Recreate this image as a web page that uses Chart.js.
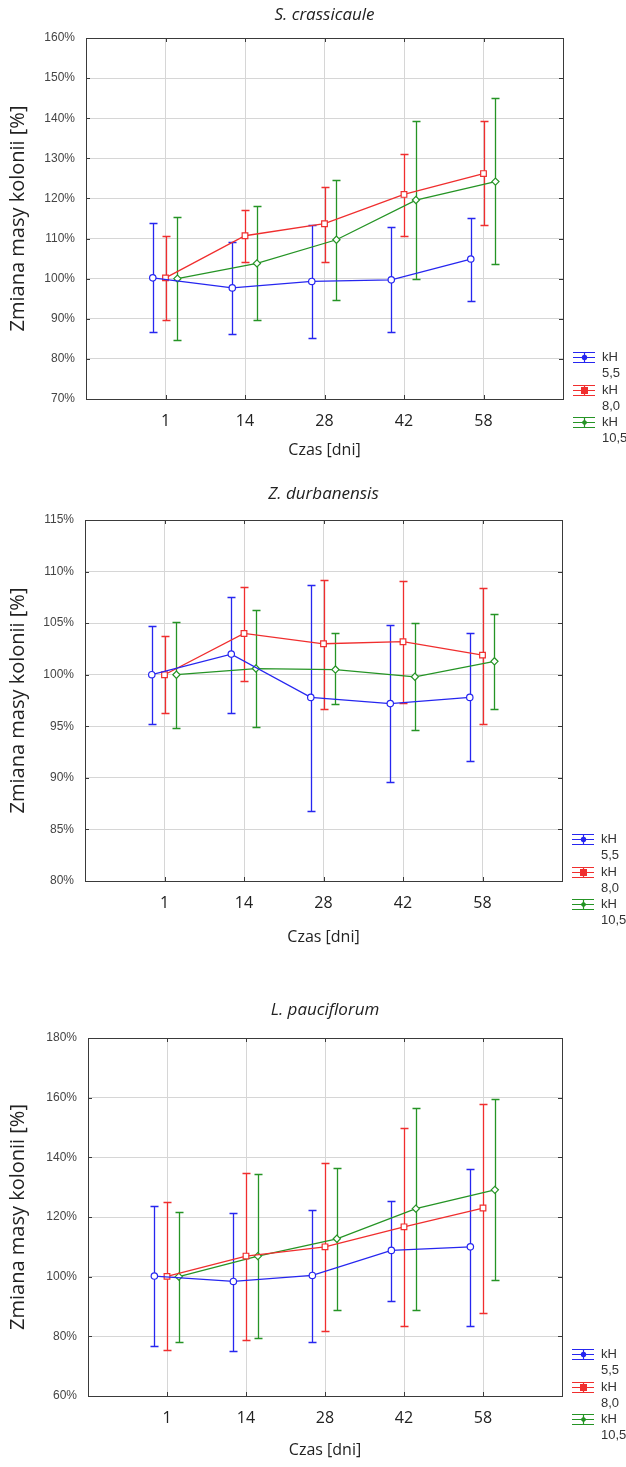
<!DOCTYPE html>
<html>
<head>
<meta charset="utf-8">
<script src="https://cdn.jsdelivr.net/npm/chart.js@4.4.1/dist/chart.umd.min.js"></script>
<style>
html, body { margin: 0; padding: 0; background: #fff; }
#wrap { position: relative; width: 626px; height: 1467px; }
#wrap canvas { position: absolute; left: 0; }
</style>
</head>
<body>
<div id="wrap">
  <canvas id="c1"></canvas>
  <canvas id="c2"></canvas>
  <canvas id="c3"></canvas>
</div>
<script>
var days = ['1', '14', '28', '42', '58'];
var seriesLabels = [['kH', '5,5'], ['kH', '8,0'], ['kH', '10,5']];

// S. crassicaule
var scMean55 = [100.2, 97.7, 99.3, 99.7, 104.9];
var scLo55 = [86.6, 86.2, 85.2, 86.8, 94.5];
var scHi55 = [113.8, 109.1, 113.5, 112.8, 115.2];
var scMean80 = [100.2, 110.7, 113.7, 121.0, 126.2];
var scLo80 = [89.8, 104.2, 104.2, 110.7, 113.5];
var scHi80 = [110.6, 117.2, 122.9, 131.2, 139.2];
var scMean105 = [100.0, 103.8, 109.7, 119.6, 124.2];
var scLo105 = [84.7, 89.8, 94.7, 100.0, 103.7];
var scHi105 = [115.4, 118.2, 124.7, 139.2, 145.0];

// Z. durbanensis
var zdMean55 = [100.0, 102.0, 97.8, 97.2, 97.8];
var zdLo55 = [95.2, 96.3, 86.8, 89.6, 91.6];
var zdHi55 = [104.7, 107.5, 108.7, 104.8, 104.0];
var zdMean80 = [100.0, 104.0, 103.0, 103.2, 101.9];
var zdLo80 = [96.3, 99.4, 96.7, 97.3, 95.2];
var zdHi80 = [103.8, 108.5, 109.2, 109.1, 108.4];
var zdMean105 = [100.0, 100.6, 100.5, 99.8, 101.3];
var zdLo105 = [94.8, 94.9, 97.2, 94.6, 96.7];
var zdHi105 = [105.1, 106.3, 104.0, 105.0, 105.9];

// L. pauciflorum
var lpMean55 = [100.2, 98.4, 100.4, 108.8, 110.0];
var lpLo55 = [76.6, 75.1, 78.2, 91.8, 83.3];
var lpHi55 = [123.6, 121.5, 122.5, 125.5, 136.2];
var lpMean80 = [100.1, 106.9, 110.0, 116.7, 123.0];
var lpLo80 = [75.5, 78.8, 81.9, 83.3, 87.8];
var lpHi80 = [124.9, 134.8, 138.1, 150.0, 158.0];
var lpMean105 = [100.0, 106.9, 112.7, 122.8, 129.1];
var lpLo105 = [78.2, 79.6, 88.9, 88.9, 98.9];
var lpHi105 = [121.8, 134.5, 136.3, 156.5, 159.6];

var colors = ['#2626f0', '#f02e2e', '#259425'];
var pointStyles = ['circle', 'rect', 'rectRot'];
var pointRadii = [3.2, 4, 3.6];
var xShift = [-0.16, 0, 0.15];

var panels = [
    { id: 'c1', title: 'S. crassicaule', yMin: 70, yMax: 160, yStep: 10,
      mean: [scMean55, scMean80, scMean105], lo: [scLo55, scLo80, scLo105], hi: [scHi55, scHi80, scHi105],
      box: { top: 0, height: 470, titleY: 15, areaTop: 38, areaBottom: 399, xTitleY: 450, left: 86, right: 563 } },
    { id: 'c2', title: 'Z. durbanensis', yMin: 80, yMax: 115, yStep: 5,
      mean: [zdMean55, zdMean80, zdMean105], lo: [zdLo55, zdLo80, zdLo105], hi: [zdHi55, zdHi80, zdHi105],
      box: { top: 470, height: 490, titleY: 494, areaTop: 520, areaBottom: 881, xTitleY: 937, left: 85, right: 562 } },
    { id: 'c3', title: 'L. pauciflorum', yMin: 60, yMax: 180, yStep: 20,
      mean: [lpMean55, lpMean80, lpMean105], lo: [lpLo55, lpLo80, lpLo105], hi: [lpHi55, lpHi80, lpHi105],
      box: { top: 960, height: 507, titleY: 1010, areaTop: 1038, areaBottom: 1396, xTitleY: 1450, left: 88, right: 562 } }
];

function drawMarker(ctx, style, r, x, y) {
    ctx.beginPath();
    if (style === 'rect') {
        ctx.rect(x - r, y - r, 2 * r, 2 * r);
    } else if (style === 'rectRot') {
        ctx.moveTo(x, y - r); ctx.lineTo(x + r, y); ctx.lineTo(x, y + r); ctx.lineTo(x - r, y); ctx.closePath();
    } else {
        ctx.arc(x, y, r, 0, Math.PI * 2);
    }
}

// error bars under the lines
var errorBars = {
    id: 'errorBars',
    beforeDatasetsDraw: function (chart) {
        var ctx = chart.ctx, xs = chart.scales.x, ys = chart.scales.y;
        chart.data.datasets.forEach(function (ds) {
            ctx.save();
            ctx.strokeStyle = ds.borderColor;
            ctx.lineWidth = 1.3;
            ds.data.forEach(function (p, i) {
                var x = Math.round(xs.getPixelForValue(p.x)) + 0.5;
                var y1 = Math.round(ys.getPixelForValue(ds.errLo[i])) + 0.5;
                var y2 = Math.round(ys.getPixelForValue(ds.errHi[i])) + 0.5;
                ctx.beginPath();
                ctx.moveTo(x, y1); ctx.lineTo(x, y2);
                ctx.moveTo(x - 4, y1); ctx.lineTo(x + 4, y1);
                ctx.moveTo(x - 4, y2); ctx.lineTo(x + 4, y2);
                ctx.stroke();
            });
            ctx.restore();
        });
    }
};

// box around plot, inward tick marks and the side legend
var frameAndLegend = {
    id: 'frameAndLegend',
    afterDraw: function (chart) {
        var ctx = chart.ctx, a = chart.chartArea;
        var xs = chart.scales.x, ys = chart.scales.y;
        ctx.save();
        ctx.strokeStyle = '#3a3a3a';
        ctx.lineWidth = 1;
        ctx.strokeRect(Math.round(a.left) + 0.5, Math.round(a.top) + 0.5,
            Math.round(a.right - a.left), Math.round(a.bottom - a.top));
        ctx.beginPath();
        xs.ticks.forEach(function (t) {
            var x = Math.round(xs.getPixelForValue(t.value)) + 0.5;
            ctx.moveTo(x, a.top); ctx.lineTo(x, a.top + 4);
            ctx.moveTo(x, a.bottom); ctx.lineTo(x, a.bottom - 4);
        });
        ys.ticks.forEach(function (t) {
            var y = Math.round(ys.getPixelForValue(t.value)) + 0.5;
            ctx.moveTo(a.left, y); ctx.lineTo(a.left + 4, y);
            ctx.moveTo(a.right, y); ctx.lineTo(a.right - 4, y);
        });
        ctx.stroke();

        chart.data.datasets.forEach(function (ds, i) {
            var y = Math.round(a.bottom - 42 + i * 32.5) + 0.5;
            var x0 = Math.round(a.right) + 10, x1 = x0 + 22, xc = Math.round((x0 + x1) / 2) + 0.5;
            ctx.strokeStyle = ds.borderColor;
            ctx.lineWidth = 1.2;
            ctx.beginPath();
            ctx.moveTo(x0, y - 5); ctx.lineTo(x1, y - 5);
            ctx.moveTo(x0, y); ctx.lineTo(x1, y);
            ctx.moveTo(x0, y + 5); ctx.lineTo(x1, y + 5);
            ctx.moveTo(xc, y - 5); ctx.lineTo(xc, y + 5);
            ctx.stroke();
            ctx.fillStyle = ds.borderColor;
            drawMarker(ctx, ds.pointStyle, ds.pointRadius - 0.5, xc, y);
            ctx.fill();
            ctx.fillStyle = '#333';
            ctx.font = '13px "Liberation Sans", Arial, sans-serif';
            ctx.textAlign = 'left';
            ctx.textBaseline = 'middle';
            ctx.fillText(ds.legendText[0], x1 + 7, y);
            ctx.fillText(ds.legendText[1], x1 + 7, y + 16);
        });
        ctx.restore();
    }
};

panels.forEach(function (p) {
    var b = p.box;
    var canvas = document.getElementById(p.id);
    canvas.width = 626;
    canvas.height = b.height;
    canvas.style.top = b.top + 'px';

    var titleLh = 17 * 1.2, xTitleLh = 16 * 1.2, yTitleLh = 20 * 1.2;

    var datasets = p.mean.map(function (m, s) {
        return {
            label: seriesLabels[s].join(' '),
            legendText: seriesLabels[s],
            data: m.map(function (v, i) { return { x: i + 1 + xShift[s], y: v }; }),
            errLo: p.lo[s],
            errHi: p.hi[s],
            borderColor: colors[s],
            backgroundColor: colors[s],
            borderWidth: 1.3,
            tension: 0,
            pointStyle: pointStyles[s],
            pointRadius: pointRadii[s],
            pointBorderWidth: 1.2,
            pointBorderColor: colors[s],
            pointBackgroundColor: '#fff'
        };
    });

    new Chart(canvas.getContext('2d'), {
        type: 'line',
        data: { datasets: datasets },
        options: {
            responsive: false,
            animation: false,
            devicePixelRatio: 1,
            layout: { padding: { left: 0, top: 0, right: 626 - b.right, bottom: 0 } },
            plugins: {
                legend: { display: false },
                tooltip: { enabled: false },
                title: {
                    display: true,
                    text: p.title,
                    fullSize: false,
                    color: '#222',
                    font: { family: '"Open Sans", sans-serif', size: 17, style: 'italic', weight: 'normal' },
                    padding: { top: b.titleY - b.top - titleLh / 2, bottom: b.areaTop - b.titleY - titleLh / 2 }
                }
            },
            scales: {
                x: {
                    type: 'linear',
                    min: 0,
                    max: 6,
                    afterBuildTicks: function (scale) {
                        scale.ticks = days.map(function (d, i) { return { value: i + 1 }; });
                    },
                    afterFit: function (scale) { scale.height = b.top + b.height - b.areaBottom; },
                    ticks: {
                        autoSkip: false,
                        maxRotation: 0,
                        padding: 13,
                        color: '#222',
                        font: { family: '"Open Sans", sans-serif', size: 16 },
                        callback: function (v) { return days[v - 1]; }
                    },
                    grid: { color: '#d6d6d6', drawTicks: false },
                    border: { color: '#3a3a3a' },
                    title: {
                        display: true,
                        text: 'Czas [dni]',
                        color: '#222',
                        font: { family: '"Open Sans", sans-serif', size: 16 },
                        padding: { top: 0, bottom: b.top + b.height - b.xTitleY - xTitleLh / 2 }
                    }
                },
                y: {
                    min: p.yMin,
                    max: p.yMax,
                    afterFit: function (scale) { scale.width = b.left; },
                    ticks: {
                        stepSize: p.yStep,
                        padding: 11,
                        color: '#444',
                        font: { family: '"Liberation Sans", Arial, sans-serif', size: 12 },
                        callback: function (v) { return v + '%'; }
                    },
                    grid: { color: '#d6d6d6', drawTicks: false },
                    border: { color: '#3a3a3a' },
                    title: {
                        display: true,
                        text: 'Zmiana masy kolonii [%]',
                        color: '#222',
                        font: { family: '"Open Sans", sans-serif', size: 20 },
                        padding: { top: 18 - yTitleLh / 2, bottom: 0 }
                    }
                }
            }
        },
        plugins: [errorBars, frameAndLegend]
    });
});
</script>
</body>
</html>
